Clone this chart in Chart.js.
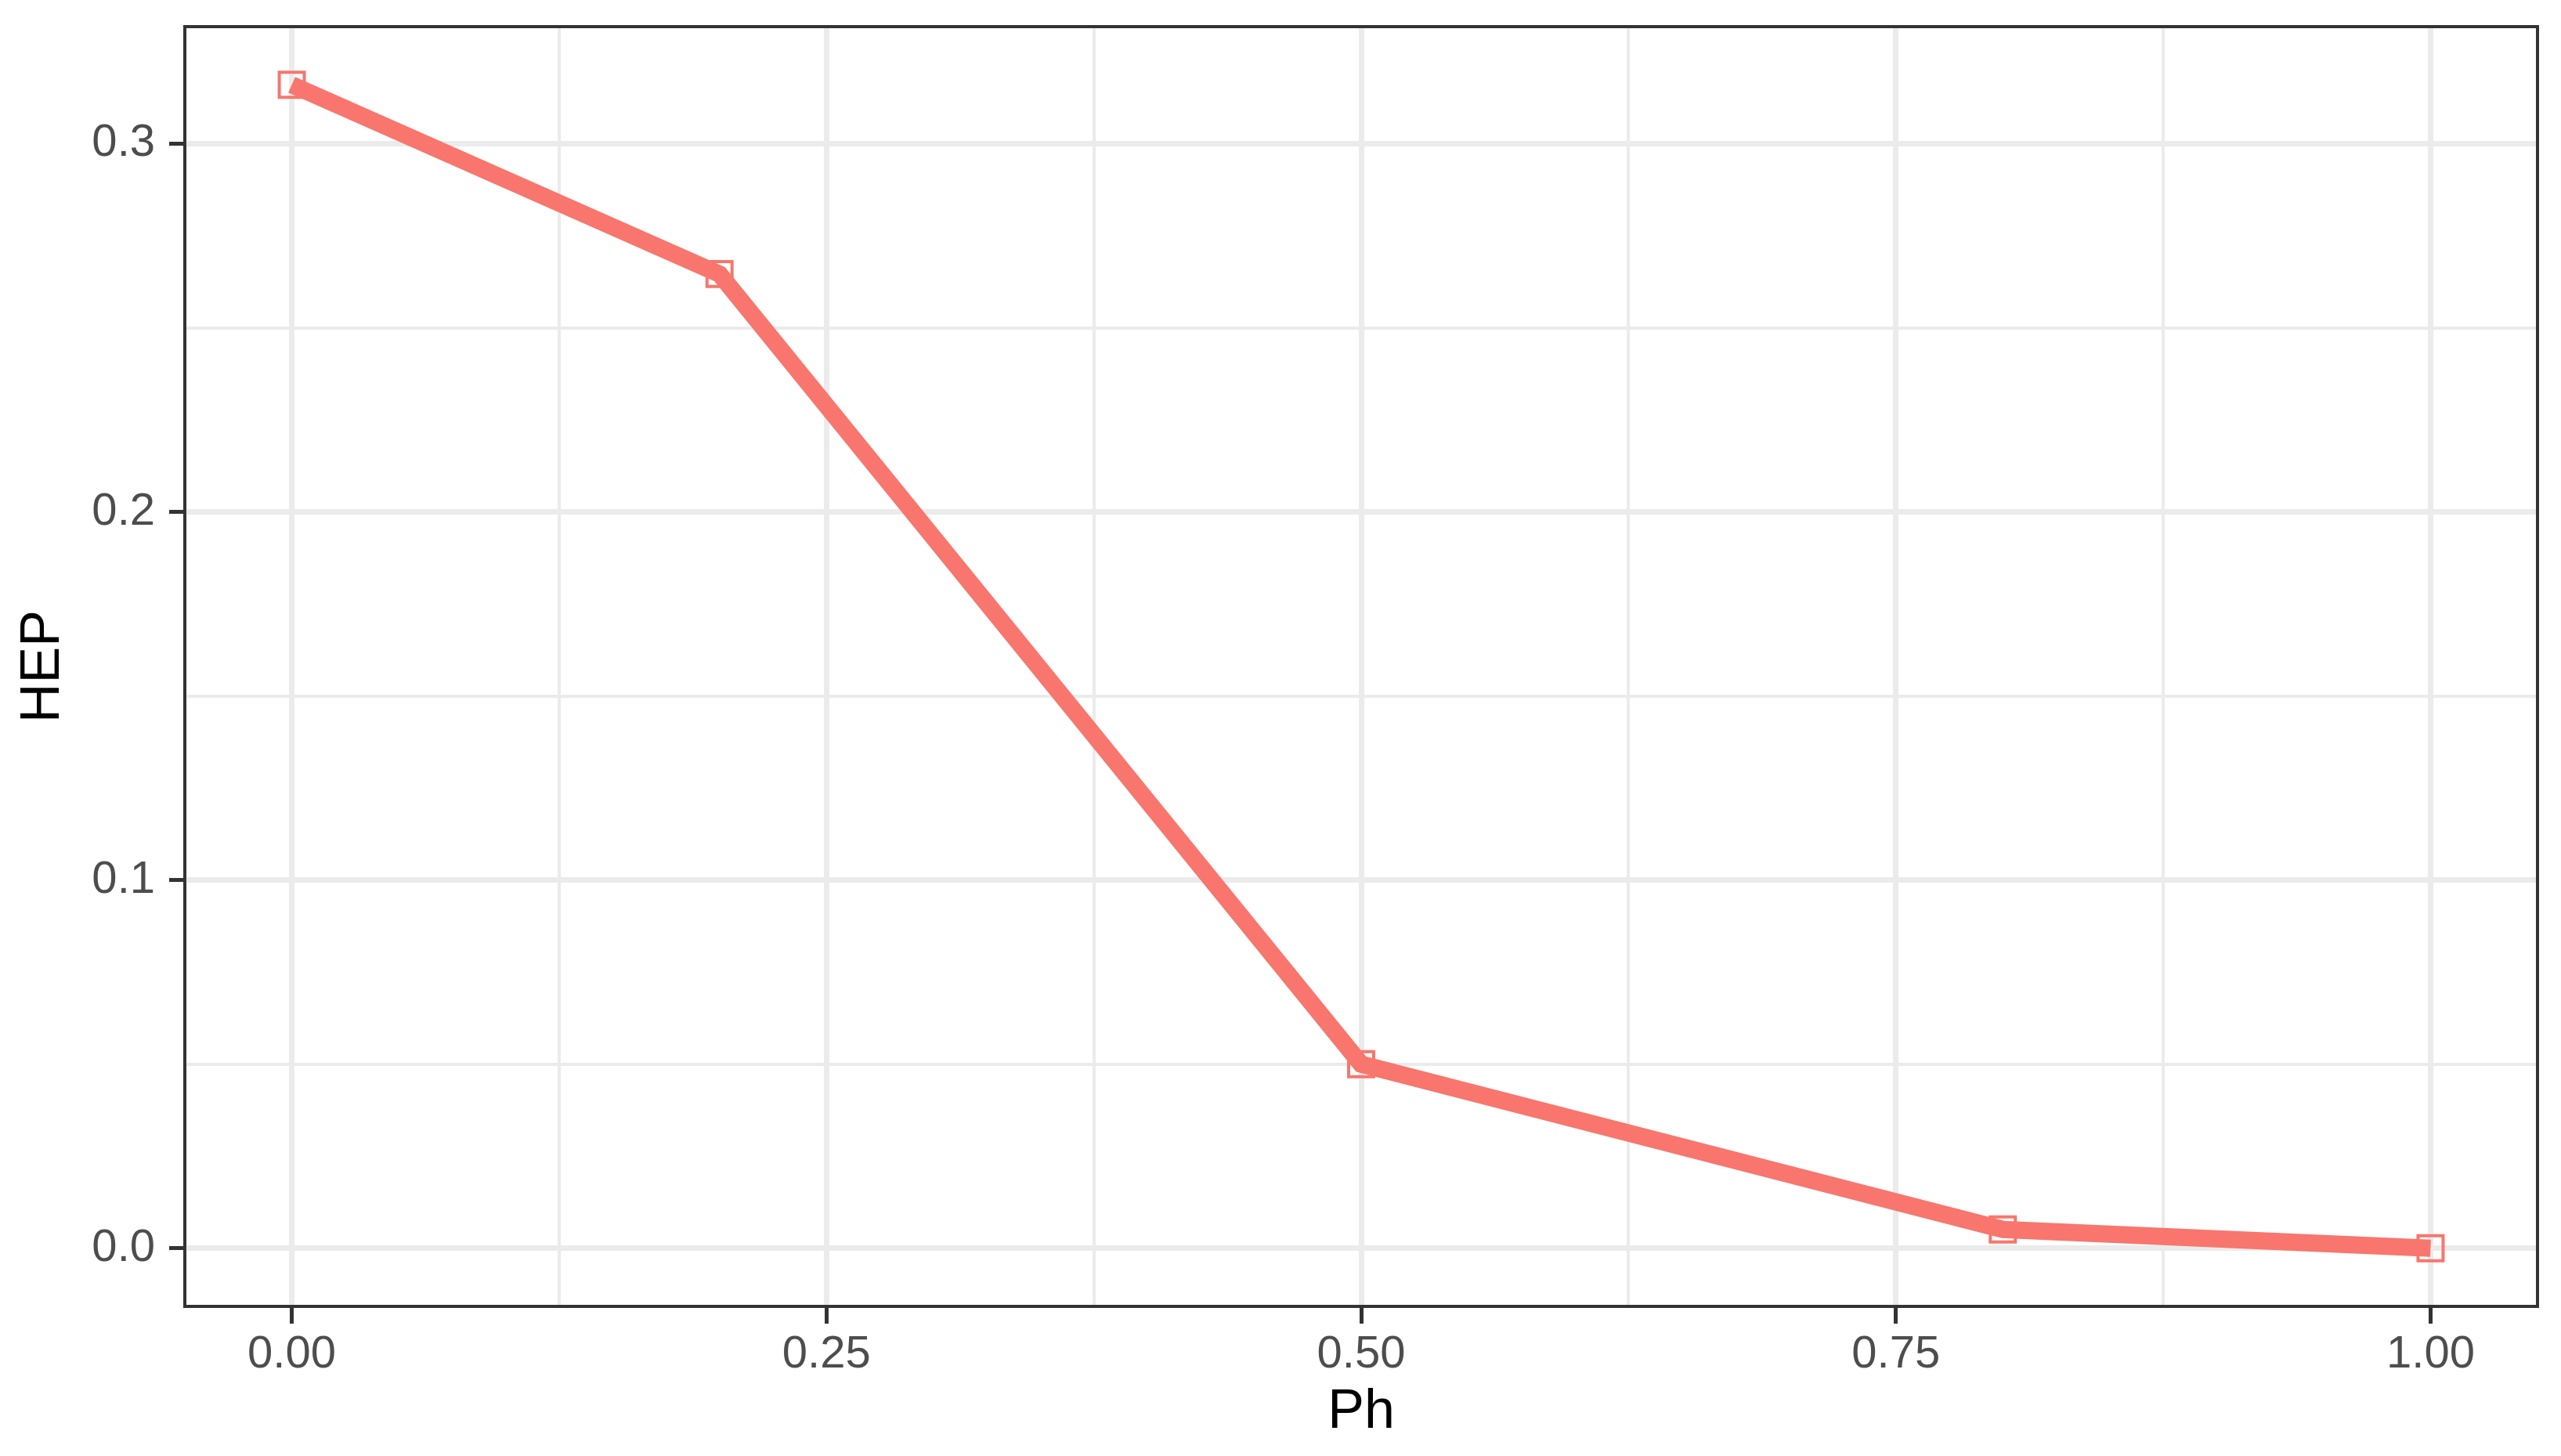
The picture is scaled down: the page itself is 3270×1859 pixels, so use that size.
<!DOCTYPE html>
<html>
<head>
<meta charset="utf-8">
<script src="https://cdn.jsdelivr.net/npm/chart.js@4"></script>
<style>
  html, body { margin: 0; padding: 0; background: #fff; }
  #wrap { width: 3270px; height: 1859px; }
</style>
</head>
<body>
<div id="wrap"><canvas id="hepChart" width="3270" height="1859"></canvas></div>
<script>
// data
const phValues = [0, 0.2, 0.5, 0.8, 1.0];
const hepValues = [0.316, 0.2646, 0.050, 0.0051, 0.0];

// major ticks carry labels, minor ones only draw a grid line
const xMajor = [0, 0.25, 0.5, 0.75, 1.0];
const xMinor = [0.125, 0.375, 0.625, 0.875];
const yMajor = [0, 0.1, 0.2, 0.3];
const yMinor = [0.05, 0.15, 0.25];

const lineColor = '#F8766D';
const points = phValues.map((x, i) => ({ x: x, y: hepValues[i] }));

const isMajor = (list, v) => list.some(m => Math.abs(m - v) < 1e-9);

// panel frame round the plot area
const panelBorder = {
    id: 'panelBorder',
    afterDraw(chart) {
        const { ctx, chartArea: a } = chart;
        ctx.save();
        ctx.strokeStyle = '#333333';
        ctx.lineWidth = 4;
        ctx.strokeRect(a.left, a.top, a.right - a.left, a.bottom - a.top);
        ctx.restore();
    }
};

const ctx = document.getElementById('hepChart').getContext('2d');
new Chart(ctx, {
    type: 'line',
    data: {
        datasets: [
            {
                data: points,
                borderColor: lineColor,
                borderWidth: 22,
                pointRadius: 0,
                tension: 0,
                order: 1
            },
            {
                data: points,
                showLine: false,
                pointStyle: 'rect',
                pointRadius: 22.6,
                pointBorderWidth: 4,
                pointBorderColor: lineColor,
                pointBackgroundColor: 'rgba(0,0,0,0)',
                order: 2
            }
        ]
    },
    options: {
        responsive: false,
        animation: false,
        devicePixelRatio: 1,
        layout: { padding: { left: 0, top: 34, right: 30, bottom: 0 } },
        plugins: {
            legend: { display: false },
            tooltip: { enabled: false }
        },
        scales: {
            x: {
                type: 'linear',
                min: -0.05,
                max: 1.05,
                afterBuildTicks: s => {
                    s.ticks = xMajor.concat(xMinor).sort((a, b) => a - b).map(v => ({ value: v }));
                },
                afterFit: s => {
                    s.height = 191;
                    s.paddingLeft = 0;
                    s.paddingRight = 0;
                },
                border: { display: false },
                grid: {
                    color: '#EBEBEB',
                    lineWidth: c => isMajor(xMajor, c.tick.value) ? 7 : 4,
                    tickColor: c => isMajor(xMajor, c.tick.value) ? '#333333' : 'rgba(0,0,0,0)',
                    tickLength: 22,
                    tickWidth: 5
                },
                ticks: {
                    autoSkip: false,
                    maxRotation: 0,
                    padding: 5,
                    color: '#4D4D4D',
                    font: { family: 'Liberation Sans, Arial, sans-serif', size: 58 },
                    callback: v => isMajor(xMajor, v) ? v.toFixed(2) : ''
                },
                title: {
                    display: true,
                    text: 'Ph',
                    color: '#000000',
                    padding: 13,
                    font: { family: 'Liberation Sans, Arial, sans-serif', size: 70 }
                }
            },
            y: {
                type: 'linear',
                min: -0.0158,
                max: 0.3318,
                afterBuildTicks: s => {
                    s.ticks = yMajor.concat(yMinor).sort((a, b) => a - b).map(v => ({ value: v }));
                },
                afterFit: s => {
                    s.width = 236;
                    s.paddingTop = 0;
                    s.paddingBottom = 0;
                },
                border: { display: false },
                grid: {
                    color: '#EBEBEB',
                    lineWidth: c => isMajor(yMajor, c.tick.value) ? 7 : 4,
                    tickColor: c => isMajor(yMajor, c.tick.value) ? '#333333' : 'rgba(0,0,0,0)',
                    tickLength: 20,
                    tickWidth: 5
                },
                ticks: {
                    autoSkip: false,
                    padding: 18,
                    color: '#4D4D4D',
                    font: { family: 'Liberation Sans, Arial, sans-serif', size: 58 },
                    callback: v => isMajor(yMajor, v) ? v.toFixed(1) : ''
                },
                title: {
                    display: true,
                    text: 'HEP',
                    color: '#000000',
                    padding: 14,
                    font: { family: 'Liberation Sans, Arial, sans-serif', size: 70 }
                }
            }
        }
    },
    plugins: [panelBorder]
});
</script>
</body>
</html>
